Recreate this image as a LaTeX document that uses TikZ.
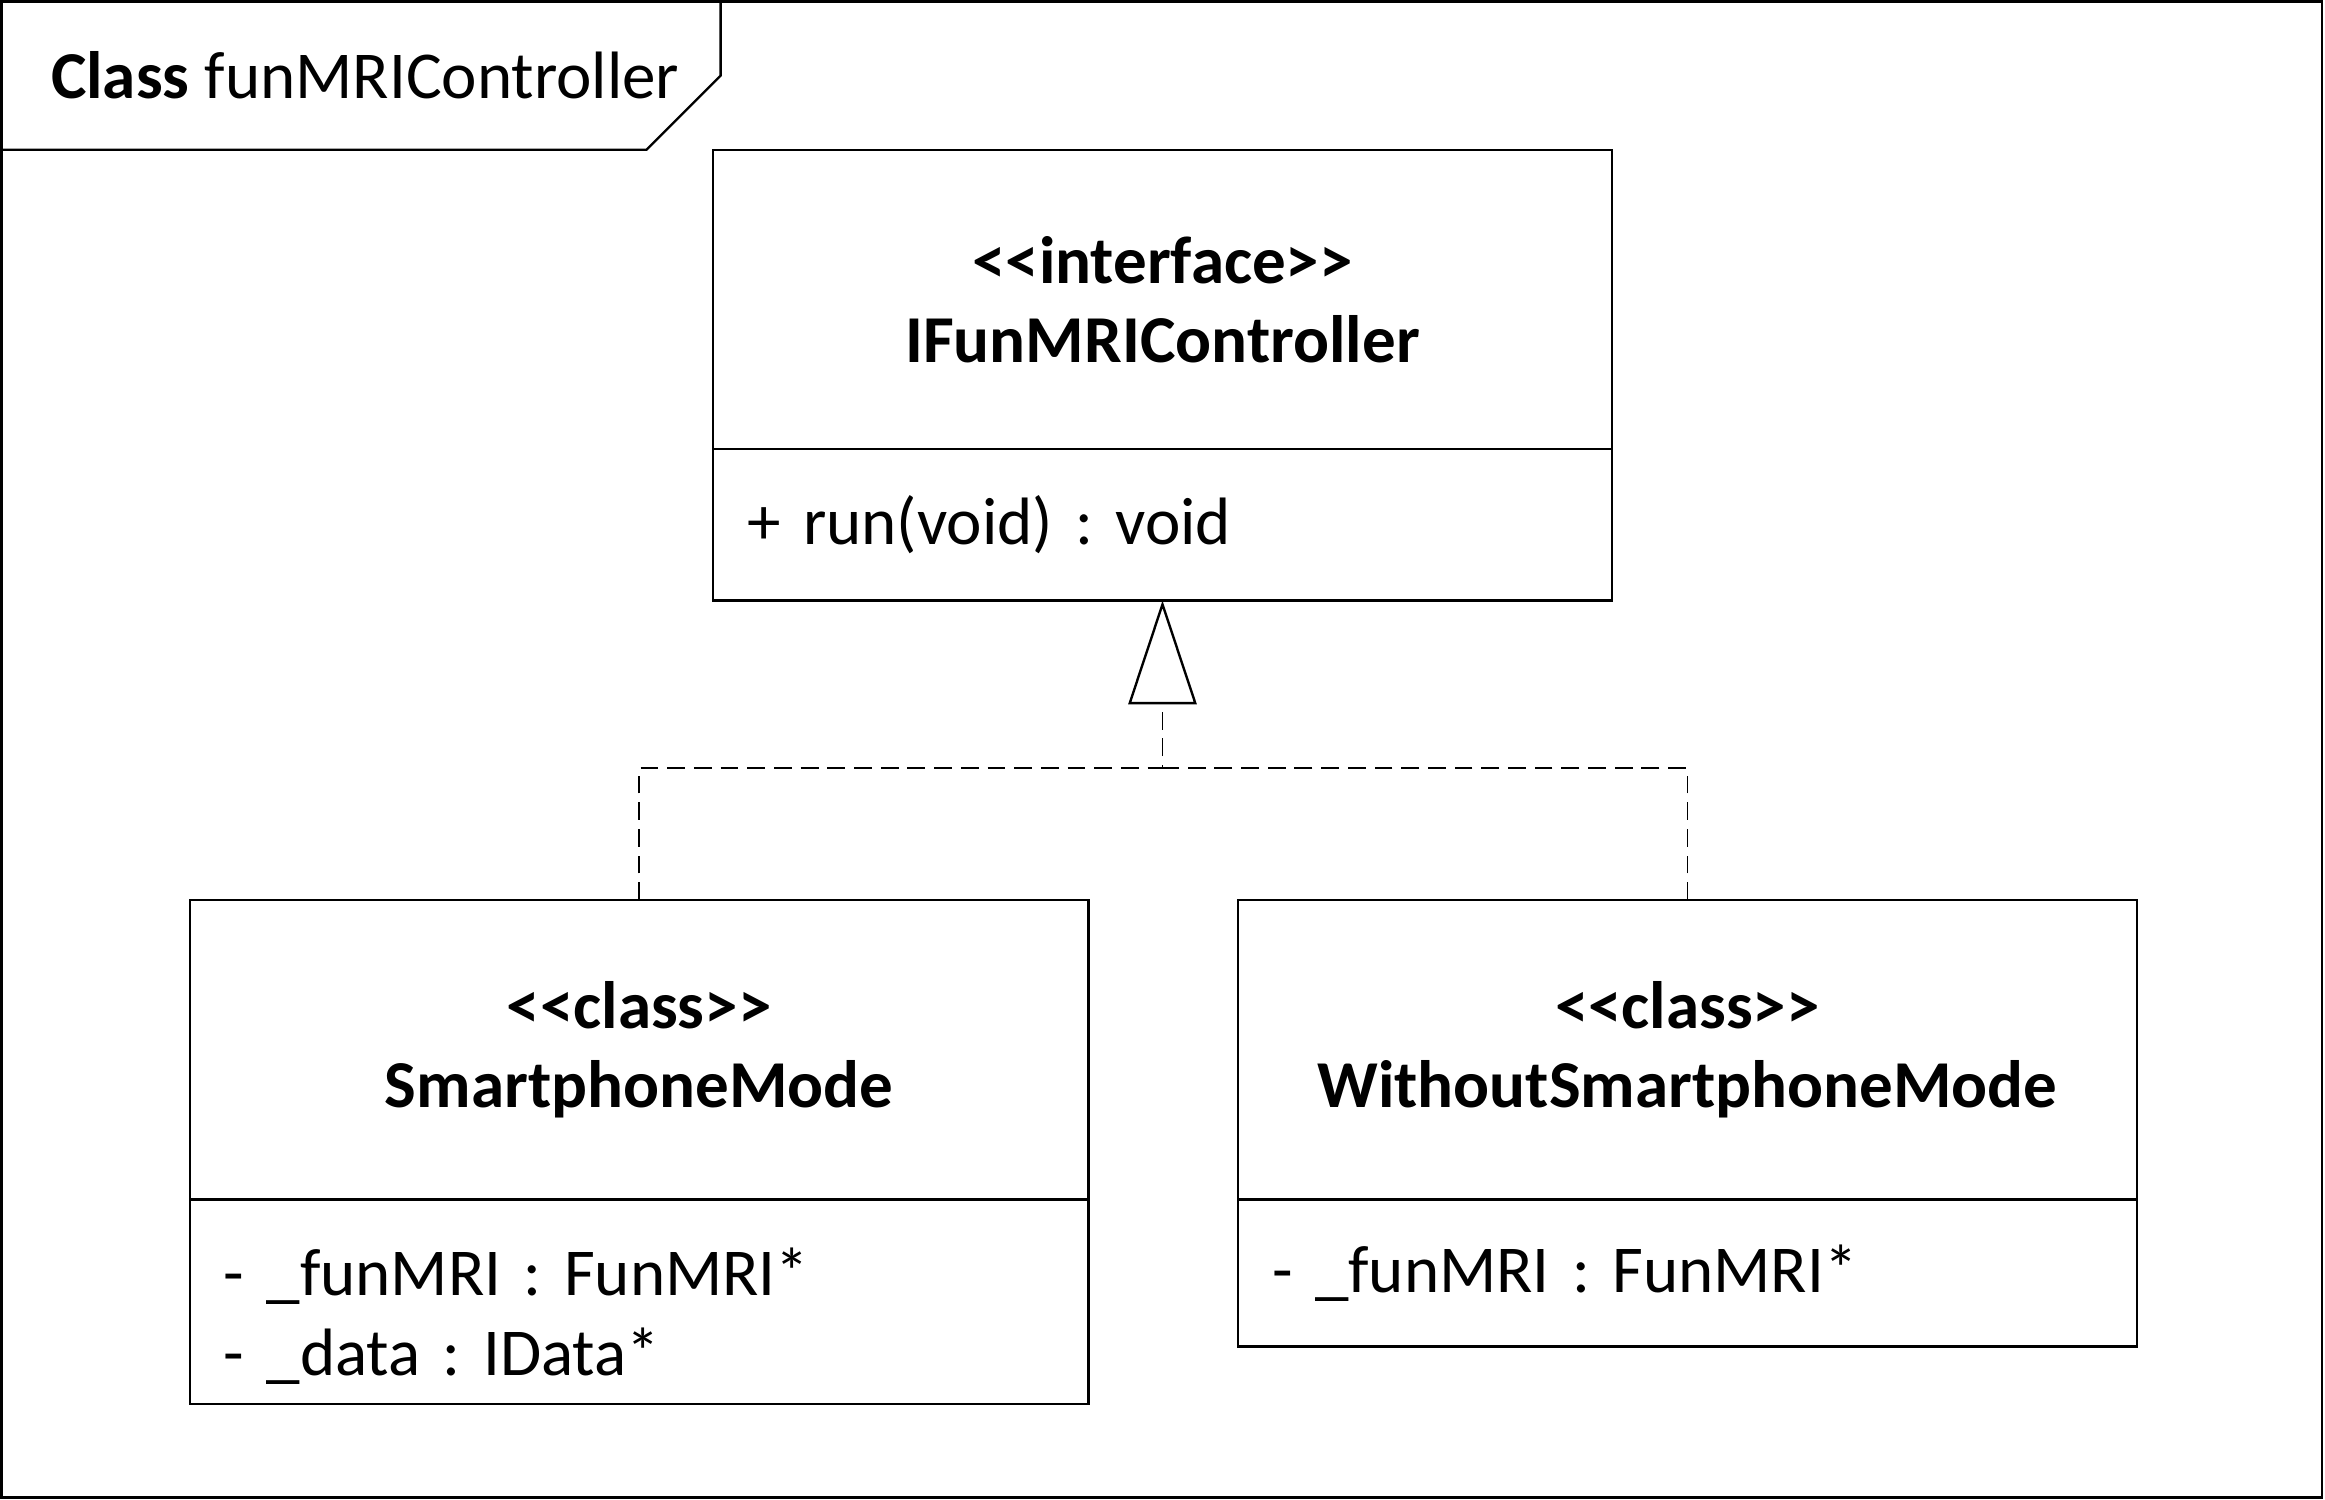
\documentclass[tikz,border=0pt]{standalone}
\usepackage{fontspec}
\setmainfont{Carlito}
\usetikzlibrary{positioning,arrows.meta}
\frenchspacing
\newcommand{\stereo}[1]{\textless\kern0pt\textless#1\textgreater\kern0pt\textgreater}

\begin{document}
\begin{tikzpicture}[x=0.5pt,y=-0.5pt,
    font=\fontsize{22.6}{27}\selectfont,
    frame/.style={line width=0.8pt},
    classhead/.style={draw,line width=0.8pt,outer sep=0pt,inner sep=0pt,minimum width=303pt,minimum height=101pt,align=center,font=\fontsize{22.6}{26.5}\selectfont\bfseries},
    classbody/.style={draw,line width=0.8pt,outer sep=0pt,inner xsep=11.5pt,inner ysep=0pt,minimum width=303pt,text width=280pt,align=left},
    realize/.style={dash pattern=on 6pt off 3pt,line width=0.6pt},
  ]
  \useasboundingbox (0,0) rectangle (1568,1011.6);
  % frame and tab
  \draw[frame] (1,1) rectangle (1566,1010);
  \draw[frame] (1,101) -- (436,101) -- (486,51) -- (486,1);
  \node[anchor=west,inner sep=0pt] (title) at (34,51) {\textbf{Class} funMRIController};

  % interface
  \node[classhead,anchor=north west] (ifhead) at (481,101) {\stereo{interface}\\IFunMRIController};
  \node[classbody,minimum height=51pt,below=0pt of ifhead] (ifbody) {+ run(void) : void};

  % classes
  \node[classhead,anchor=north west] (smarthead) at (128,607) {\stereo{class}\\SmartphoneMode};
  \node[classbody,minimum height=69pt,text height=25.5pt,below=0pt of smarthead] (smartbody) {- \_funMRI : FunMRI*\\- \_data : IData*};
  \node[classhead,anchor=north west] (nosmarthead) at (835,607) {\stereo{class}\\WithoutSmartphoneMode};
  \node[classbody,minimum height=49.5pt,below=0pt of nosmarthead] (nosmartbody) {- \_funMRI : FunMRI*};

  % realization
  \coordinate (fork) at (784,518);
  \draw[realize,-{Triangle[open,width=23pt,length=35pt,line width=0.8pt,fill=white]}] (smarthead.north) |- (fork) -- (ifbody.south);
  \draw[realize] (nosmarthead.north) |- (fork);
\end{tikzpicture}
\end{document}
